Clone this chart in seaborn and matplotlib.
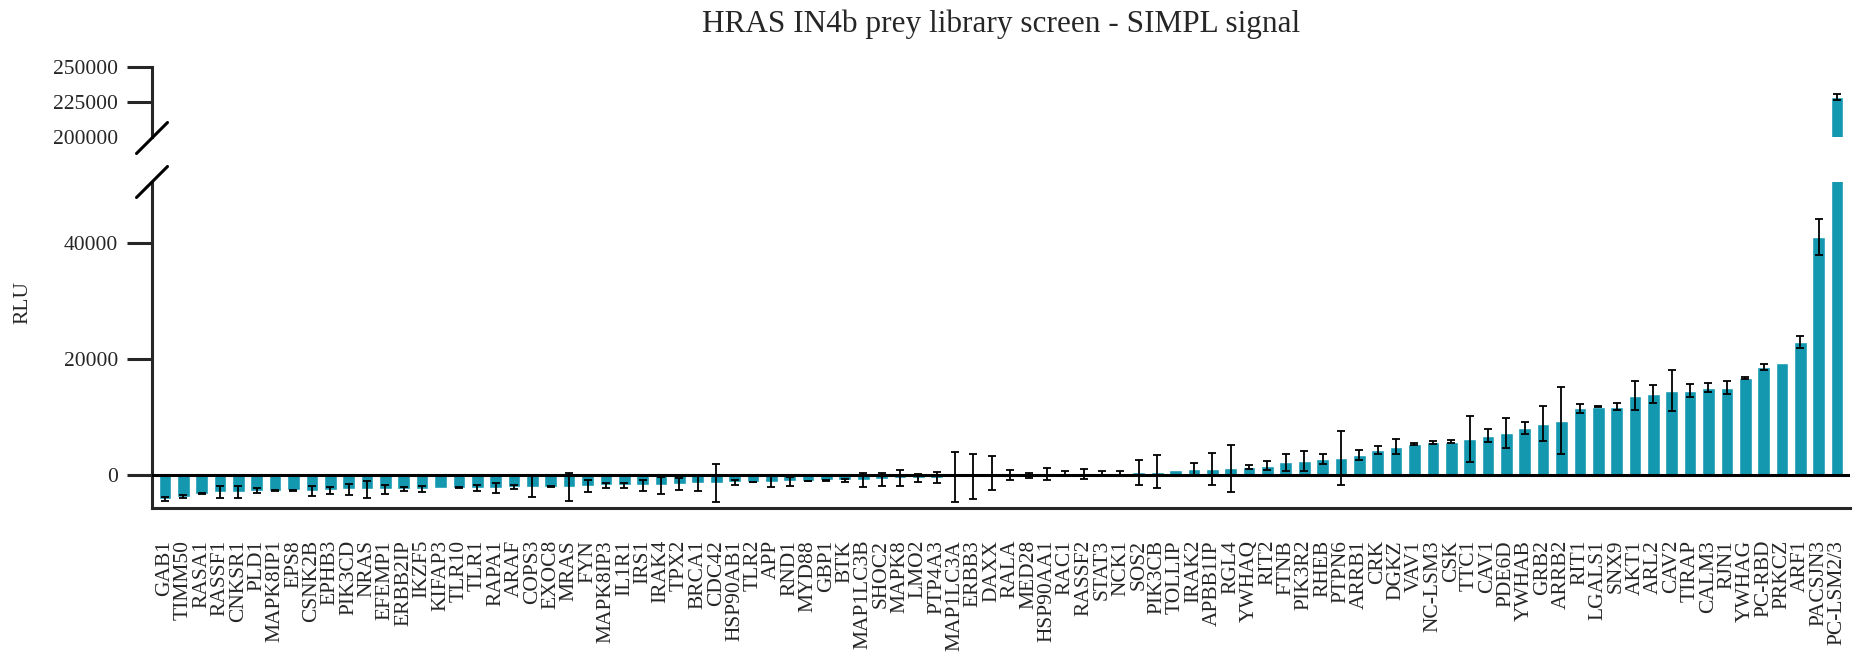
import numpy as np
import pandas as pd
import matplotlib
matplotlib.use("Agg")
import matplotlib.pyplot as plt
from matplotlib.lines import Line2D
from matplotlib.ticker import FuncFormatter
import seaborn as sns

genes = ["GAB1", "TIMM50", "RASA1", "RASSF1", "CNKSR1", "PLD1", "MAPK8IP1", "EPS8",
         "CSNK2B", "EPHB3", "PIK3CD", "NRAS", "EFEMP1", "ERBB2IP", "IKZF5", "KIFAP3",
         "TLR10", "TLR1", "RAPA1", "ARAF", "COPS3", "EXOC8", "MRAS", "FYN", "MAPK8IP3",
         "IL1R1", "IRS1", "IRAK4", "TPX2", "BRCA1", "CDC42", "HSP90AB1", "TLR2", "APP",
         "RND1", "MYD88", "GBP1", "BTK", "MAP1LC3B", "SHOC2", "MAPK8", "LMO2", "PTP4A3",
         "MAP1LC3A", "ERBB3", "DAXX", "RALA", "MED28", "HSP90AA1", "RAC1", "RASSF2",
         "STAT3", "NCK1", "SOS2", "PIK3CB", "TOLLIP", "IRAK2", "APBB1IP", "RGL4", "YWHAQ",
         "RIT2", "FTNB", "PIK3R2", "RHEB", "PTPN6", "ARRB1", "CRK", "DGKZ", "VAV1",
         "NC-LSM3", "CSK", "TTC1", "CAV1", "PDE6D", "YWHAB", "GRB2", "ARRB2", "RIT1",
         "LGALS1", "SNX9", "AKT1", "ARL2", "CAV2", "TIRAP", "CALM3", "RJN1", "YWHAG",
         "PC-RBD", "PRKCZ", "ARF1", "PACSJN3", "PC-LSM2/3"]

rlu = [-4200, -3750, -3250, -2950, -2950, -2700, -2700, -2650,
       -2700, -2650, -2500, -2500, -2500, -2400, -2400, -2200,
       -2200, -2200, -2200, -2050, -2050, -2050, -2050, -1900, -1800,
       -1800, -1800, -1800, -1600, -1450, -1450, -1300, -1200, -1200,
       -1080, -1050, -950, -950, -900, -770, -570, -570, -450,
       -290, -220, 350, -60, -100, 190, 380, 220,
       380, 380, 450, 550, 830, 950, 1050, 1150, 1320,
       1610, 2190, 2470, 2760, 2950, 3510, 4310, 4890, 5350,
       5640, 5750, 6210, 6790, 7150, 8050, 8790, 9370, 11490,
       11780, 11780, 13680, 13960, 14540, 14540, 15060, 15060, 16670,
       18560, 19370, 22930, 41090, 228700]

rlu_err = [370, 250, 80, 1000, 1000, 500, 100, 80,
           850, 600, 950, 1450, 740, 400, 490, 0,
           100, 490, 890, 340, 1800, 100, 2450, 1000, 460,
           460, 990, 1450, 1080, 1400, 3300, 450, 60, 950,
           800, 60, 60, 250, 1200, 1080, 1370, 700, 990,
           4300, 3900, 3000, 860, 480, 1080, 320, 860,
           320, 380, 2170, 2840, 0, 1080, 2780, 4080, 350,
           720, 1440, 1730, 800, 4660, 860, 690, 1260, 230,
           290, 290, 3940, 1150, 2590, 1000, 3020, 5750, 750,
           100, 630, 2440, 1520, 3590, 1090, 720, 1150, 200,
           520, 0, 980, 3100, 2000]

title = "HRAS IN4b prey library screen - SIMPL signal"

sns.set_theme(style="ticks")
plt.rcParams['font.family'] = ['Liberation Serif', 'DejaVu Serif']

BAR = "#1398B0"
W_PX, H_PX = 1856, 652
fig = plt.figure(figsize=(W_PX / 100, H_PX / 100), dpi=100)

left = 152 / W_PX
width = (1850 - 152) / W_PX
ax_lo = fig.add_axes([left, (H_PX - 508) / H_PX, width, 326 / H_PX])
ax_hi = fig.add_axes([left, (H_PX - 137) / H_PX, width, 70 / H_PX])

df = pd.DataFrame({"gene": genes, "RLU": rlu, "err": rlu_err})
has_err = df["err"] > 0
xpos = np.arange(len(genes))

LW = 2.2
for ax in (ax_lo, ax_hi):
    sns.barplot(data=df, x="gene", y="RLU", order=genes, color=BAR, width=0.69,
                errorbar=None, saturation=1, ax=ax, zorder=2)
    ax.errorbar(xpos[has_err], df["RLU"][has_err], yerr=df["err"][has_err], fmt="none",
                ecolor="black", elinewidth=1.3, capsize=2.6, capthick=1.3, zorder=3)
    ax.set_xlim(-0.7, len(genes) - 0.3)
    ax.set_xlabel("")
    ax.set_ylabel("")
    for s in ("top", "right"):
        ax.spines[s].set_visible(False)
    ax.spines["left"].set_linewidth(LW)
    ax.spines["bottom"].set_linewidth(LW)
    ax.tick_params(axis="y", length=18, width=LW, direction="out", labelsize=15.5, pad=6.5)
    ax.yaxis.set_major_formatter(FuncFormatter(lambda v, p: f"{v:.0f}"))
    ax.set_facecolor("white")

# lower panel
ax_lo.set_ylim(-5700, 50500)
ax_lo.set_yticks([0, 20000, 40000])
ax_lo.axhline(0, color="black", lw=LW, zorder=4)
ax_lo.tick_params(axis="x", length=0, pad=23, labelsize=15.5, labelrotation=90)

# upper panel
ax_hi.set_ylim(200000, 250000)
ax_hi.set_yticks([200000, 225000, 250000])
ax_hi.yaxis.get_major_ticks()[0].tick1line.set_visible(False)
ax_hi.spines["bottom"].set_visible(False)
ax_hi.tick_params(axis="x", length=0, labelbottom=False)

# axis break marks
def brk(xc, yc):
    d = 15.5
    fig.add_artist(Line2D([(xc - d) / W_PX, (xc + d) / W_PX],
                          [1 - (yc + d) / H_PX, 1 - (yc - d) / H_PX],
                          color="black", lw=LW))
brk(152, 138)
brk(152, 182)

fig.text(23 / W_PX, 1 - 303 / H_PX, "RLU", rotation=90, ha="center", va="center", fontsize=15.5)
fig.text((152 + 1850) / 2 / W_PX, 1 - 32 / H_PX, title, ha="center", va="baseline", fontsize=22.5)

fig.savefig("out.png", dpi=100, facecolor="white")
